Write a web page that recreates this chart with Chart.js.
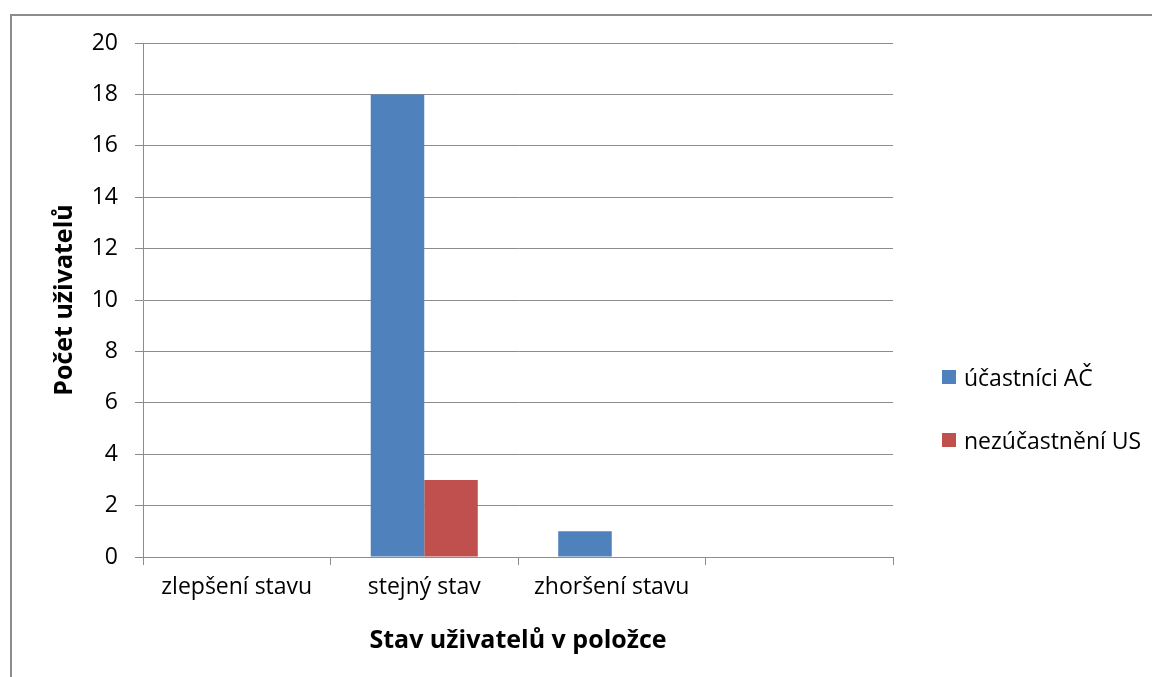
<!DOCTYPE html>
<html lang="cs">
<head>
<meta charset="utf-8">
<title>Stav uživatelů v položce</title>
<script src="https://cdn.jsdelivr.net/npm/chart.js@4.4.1/dist/chart.umd.min.js"></script>
<style>
  html, body { margin: 0; padding: 0; background: #fff; overflow: hidden; }
  #wrap { position: relative; width: 1152px; height: 677px; }
  #frame {
    position: absolute; left: 10px; top: 14px; width: 1200px; height: 700px;
    border-left: 2px solid #8c8c8c; border-top: 2px solid #8c8c8c;
  }
  #chart { position: absolute; left: 0; top: 0; }
  #legend { position: absolute; left: 942px; top: 0; font-family: 'Open Sans', sans-serif; font-size: 23px; color: #000; }
  #legend .item { position: absolute; white-space: nowrap; display: flex; align-items: center; height: 32px; }
  #legend .box { width: 14px; height: 14px; margin-right: 8px; }
</style>
</head>
<body>
<div id="wrap">
  <div id="frame"></div>
  <canvas id="chart" width="1152" height="677"></canvas>
  <div id="legend"></div>
</div>
<script>
// Categories and counts per group
const categories = ['zlepšení stavu', 'stejný stav', 'zhoršení stavu', ''];
const ucastniciAC = [0, 18, 1, 0];
const nezucastneniUS = [0, 3, 0, 0];
const seriesNames = ['účastníci AČ', 'nezúčastnění US'];
const yTicks = [0, 2, 4, 6, 8, 10, 12, 14, 16, 18, 20];

const axisGray = '#8c8c8c';
const fontFamily = "'Open Sans', sans-serif";

const ctx = document.getElementById('chart').getContext('2d');
const chart = new Chart(ctx, {
  type: 'bar',
  data: {
    labels: categories,
    datasets: [{
      label: seriesNames[0],
      data: ucastniciAC,
      backgroundColor: '#4F81BD',
      borderWidth: 0
    }, {
      label: seriesNames[1],
      data: nezucastneniUS,
      backgroundColor: '#C0504D',
      borderWidth: 0
    }]
  },
  options: {
    responsive: false,
    animation: false,
    layout: { padding: { top: 43, right: 259, bottom: 0, left: 0 } },
    plugins: {
      legend: { display: false },
      tooltip: { enabled: false }
    },
    datasets: {
      bar: { categoryPercentage: 0.571, barPercentage: 1 }
    },
    scales: {
      x: {
        afterFit: scale => { scale.height = 120; },
        grid: { offset: true, drawOnChartArea: false, color: axisGray, tickLength: 8, lineWidth: 1 },
        border: { color: axisGray, width: 1 },
        ticks: { color: '#000', font: { family: fontFamily, size: 23 }, padding: 9, maxRotation: 0 },
        title: {
          display: true,
          text: 'Stav uživatelů v položce',
          color: '#000',
          font: { family: fontFamily, size: 25, weight: 'bold' },
          padding: { top: 0, bottom: 21 }
        }
      },
      y: {
        min: 0,
        max: 20,
        afterFit: scale => { scale.width = 143; },
        afterBuildTicks: scale => { scale.ticks = yTicks.map(v => ({ value: v })); },
        grid: { color: axisGray, tickLength: 8, lineWidth: 1 },
        border: { color: axisGray, width: 1 },
        ticks: { color: '#000', font: { family: fontFamily, size: 23 }, padding: 17 },
        title: {
          display: true,
          text: 'Počet uživatelů',
          color: '#000',
          font: { family: fontFamily, size: 25, weight: 'bold' },
          padding: { top: 50, bottom: 0 }
        }
      }
    }
  }
});

// Legend beside the plot, built from the dataset settings
const legendEl = document.getElementById('legend');
const legendTops = [361, 424];
chart.data.datasets.forEach((ds, i) => {
  const item = document.createElement('div');
  item.className = 'item';
  item.style.top = legendTops[i] + 'px';
  item.innerHTML = `<span class="box" style="background:${ds.backgroundColor}"></span><span>${ds.label}</span>`;
  legendEl.appendChild(item);
});
</script>
</body>
</html>
